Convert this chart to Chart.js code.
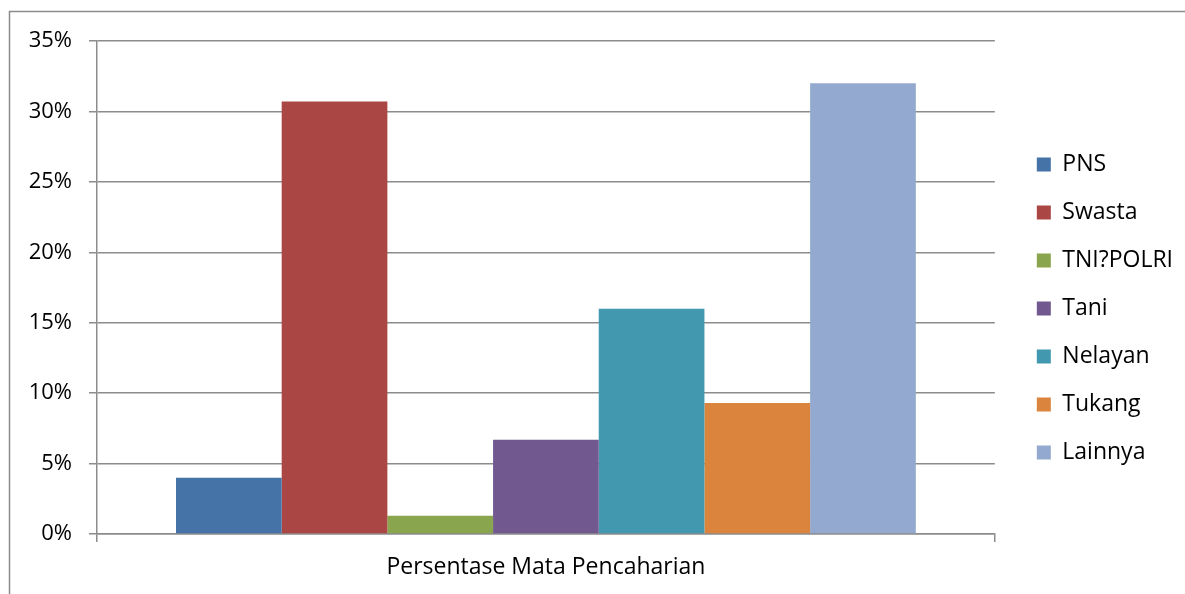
<!DOCTYPE html>
<html lang="id">
<head>
    <meta charset="UTF-8">
    <title>Persentase Mata Pencaharian</title>
    <style>
        body { margin: 0; background: #fff; }
        canvas { display: block; }
    </style>
</head>
<body>
    <canvas id="grafikPekerjaan" width="1185" height="594"></canvas>

    <script src="https://cdn.jsdelivr.net/npm/chart.js"></script>
    <script>
        // data
        const kategori = ['Persentase Mata Pencaharian']
        const pekerjaan = ['PNS', 'Swasta', 'TNI?POLRI', 'Tani', 'Nelayan', 'Tukang', 'Lainnya']
        const persentase = [4.0, 30.7, 1.3, 6.7, 16.0, 9.3, 32.0]
        const warna = ['#4572A7', '#AA4643', '#89A54E', '#71588F', '#4198AF', '#DB843D', '#93A9CF']
        const batasY = 35
        const langkahY = 5

        const abu = '#8c8c8c'
        const huruf = { family: '"Open Sans", sans-serif', size: 23 }

        // garis bingkai luar + penyesuaian posisi legenda
        const bingkai = {
            id: 'bingkai',
            afterLayout(chart) {
                const lg = chart.legend
                const dx = chart.chartArea.right + 17 - lg.left
                lg.left += dx
                lg.right += dx + 40
                lg.width += 40
                lg.top -= 9
                lg.bottom -= 9
            },
            beforeDraw(chart) {
                const ctx = chart.ctx
                ctx.save()
                ctx.strokeStyle = abu
                ctx.lineWidth = 1.5
                ctx.beginPath()
                ctx.moveTo(9.5, chart.height)
                ctx.lineTo(9.5, 11.5)
                ctx.lineTo(chart.width, 11.5)
                ctx.stroke()
                ctx.restore()
            }
        }

        const ctx = document.getElementById('grafikPekerjaan')

        new Chart(ctx, {
            type: 'bar',
            data: {
                labels: kategori,
                datasets: pekerjaan.map((nama, i) => ({
                    label: nama,
                    data: [persentase[i]],
                    backgroundColor: warna[i],
                    borderWidth: 0,
                    categoryPercentage: 0.824,
                    barPercentage: 1
                }))
            },
            options: {
                responsive: false,
                animation: false,
                layout: { padding: { top: 41, right: 19, bottom: 0, left: 0 } },
                plugins: {
                    tooltip: { enabled: false },
                    legend: {
                        position: 'right',
                        labels: {
                            boxWidth: 14,
                            boxHeight: 14,
                            padding: 25,
                            color: '#000',
                            font: huruf
                        }
                    }
                },
                scales: {
                    x: {
                        afterFit: s => { s.height = 60 },
                        grid: {
                            offset: true,
                            drawOnChartArea: false,
                            tickLength: 8,
                            color: abu,
                            lineWidth: 1.5
                        },
                        border: { color: abu, width: 1.5 },
                        ticks: { color: '#000', font: huruf, padding: 12 }
                    },
                    y: {
                        min: 0,
                        max: batasY,
                        afterFit: s => { s.width = 97 },
                        grid: { tickLength: 8, color: abu, lineWidth: 1.5 },
                        border: { color: abu, width: 1.5 },
                        ticks: {
                            stepSize: langkahY,
                            color: '#000',
                            font: { family: '"Open Sans", sans-serif', size: 22 },
                            padding: 17,
                            callback: v => v + '%'
                        }
                    }
                }
            },
            plugins: [bingkai]
        })
    </script>
</body>
</html>
